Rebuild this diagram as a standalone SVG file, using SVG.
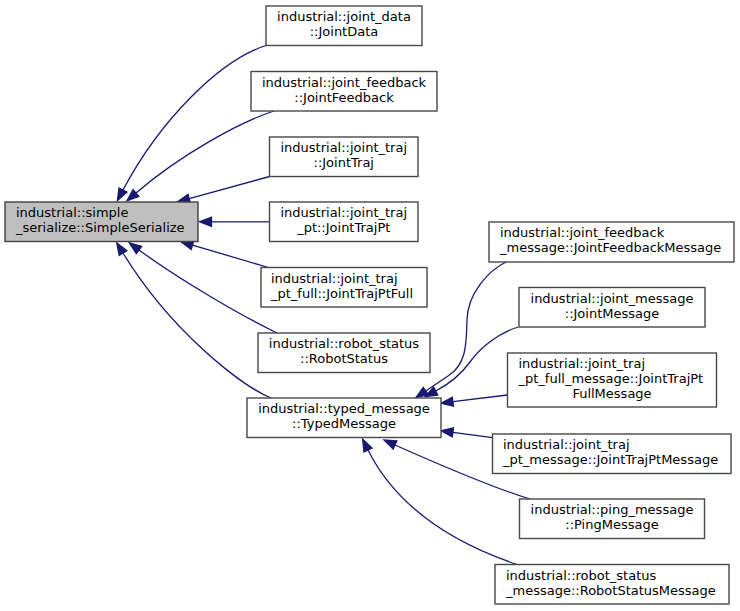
<svg xmlns="http://www.w3.org/2000/svg" width="740" height="611" viewBox="0 0 740 611">
<style>
.n rect{fill:#ffffff;stroke:#484848;stroke-width:1.4}
.root rect{fill:#bfbfbf;stroke:#404040;stroke-width:1.4}
text{font-family:"DejaVu Sans","Liberation Sans",sans-serif;font-size:13px;fill:#000000}
.c{text-anchor:middle}
.l{text-anchor:start}
.e path{fill:none;stroke:#191970;stroke-width:1.3;marker-end:url(#ah)}
</style>
<defs>
<marker id="ah" markerUnits="userSpaceOnUse" markerWidth="16" markerHeight="12" refX="0" refY="4.5" orient="auto" overflow="visible">
<path d="M0,0 L12,4.5 L0,9 z" fill="#191970" stroke="#191970" stroke-width="1.3"/>
</marker>
</defs>
<rect x="0" y="0" width="740" height="611" fill="#ffffff"/>
<g id="edges" class="e">
<path d="M266,45.5 C220,60 160,120 123,190"/>
<path d="M274,111 C240,122 180,155 136,193"/>
<path d="M269.5,176.5 L189.2,198.6"/>
<path d="M269.5,221.8 L211.5,221.8"/>
<path d="M268.3,267.5 L192.5,245.1"/>
<path d="M277,333 C240,315 180,280 139,250"/>
<path d="M271,398 C240,385 170,330 123,253"/>
<path d="M507,261.5 C487,271 467.5,295 467,320 C466.5,345 466,365 448,376 L425.8,391"/>
<path d="M518.3,327 C498,333 480,348 470,362 C462,373 453,382 435.7,391"/>
<path d="M507.5,395 L452.9,401.7"/>
<path d="M492.5,437.7 L452.9,432.4"/>
<path d="M530,499 C500,490 440,465 395,445"/>
<path d="M517,564.5 C430,535 388,490 368,450"/>
</g>
<g id="SimpleSerialize" class="root">
<rect x="5" y="202" width="193" height="39.5"/>
<text class="l" x="16" y="217.3">industrial::simple</text>
<text class="l" x="16" y="232.3">_serialize::SimpleSerialize</text>
</g>
<g id="JointData" class="n">
<rect x="266" y="6" width="156" height="39.5"/>
<text class="c" x="344" y="21.3">industrial::joint_data</text>
<text class="c" x="344" y="36.3">::JointData</text>
</g>
<g id="JointFeedback" class="n">
<rect x="251" y="71.5" width="186" height="39.5"/>
<text class="c" x="344" y="86.8">industrial::joint_feedback</text>
<text class="c" x="344" y="101.8">::JointFeedback</text>
</g>
<g id="JointTraj" class="n">
<rect x="269.5" y="137" width="148.5" height="39.5"/>
<text class="c" x="343.75" y="152.3">industrial::joint_traj</text>
<text class="c" x="343.75" y="167.3">::JointTraj</text>
</g>
<g id="JointTrajPt" class="n">
<rect x="269.5" y="202" width="148.5" height="39.5"/>
<text class="c" x="343.75" y="217.3">industrial::joint_traj</text>
<text class="c" x="343.75" y="232.3">_pt::JointTrajPt</text>
</g>
<g id="JointTrajPtFull" class="n">
<rect x="261" y="267.5" width="166" height="39.5"/>
<text class="l" x="271" y="282.8">industrial::joint_traj</text>
<text class="l" x="271" y="297.8">_pt_full::JointTrajPtFull</text>
</g>
<g id="RobotStatus" class="n">
<rect x="258" y="333" width="172" height="39.5"/>
<text class="c" x="344" y="348.3">industrial::robot_status</text>
<text class="c" x="344" y="363.3">::RobotStatus</text>
</g>
<g id="TypedMessage" class="n">
<rect x="247" y="398" width="194" height="39.5"/>
<text class="c" x="344" y="413.3">industrial::typed_message</text>
<text class="c" x="344" y="428.3">::TypedMessage</text>
</g>
<g id="JointFeedbackMessage" class="n">
<rect x="489" y="222" width="245" height="40"/>
<text class="l" x="500" y="237.3">industrial::joint_feedback</text>
<text class="l" x="500" y="252.3">_message::JointFeedbackMessage</text>
</g>
<g id="JointMessage" class="n">
<rect x="519" y="287.5" width="186" height="39.5"/>
<text class="c" x="612" y="302.8">industrial::joint_message</text>
<text class="c" x="612" y="317.8">::JointMessage</text>
</g>
<g id="JointTrajPtFullMessage" class="n">
<rect x="507.5" y="353" width="209" height="54"/>
<text class="l" x="518.5" y="368.3">industrial::joint_traj</text>
<text class="l" x="518.5" y="383.3">_pt_full_message::JointTrajPt</text>
<text class="c" x="612" y="398.3">FullMessage</text>
</g>
<g id="JointTrajPtMessage" class="n">
<rect x="492.5" y="434" width="238.5" height="39.5"/>
<text class="l" x="503" y="449.3">industrial::joint_traj</text>
<text class="l" x="503" y="464.3">_pt_message::JointTrajPtMessage</text>
</g>
<g id="PingMessage" class="n">
<rect x="519.5" y="499" width="185" height="39.5"/>
<text class="c" x="612" y="514.3">industrial::ping_message</text>
<text class="c" x="612" y="529.3">::PingMessage</text>
</g>
<g id="RobotStatusMessage" class="n">
<rect x="495" y="564.5" width="234" height="39.5"/>
<text class="l" x="506" y="579.8">industrial::robot_status</text>
<text class="l" x="506" y="594.8">_message::RobotStatusMessage</text>
</g>
</svg>
